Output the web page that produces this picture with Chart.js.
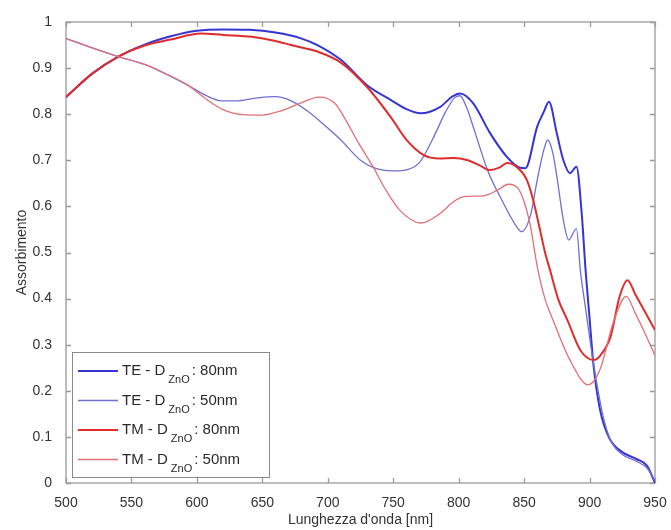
<!DOCTYPE html>
<html><head><meta charset="utf-8">
<script src="https://cdn.jsdelivr.net/npm/chart.js@4.4.1/dist/chart.umd.min.js"></script>
<style>html,body{margin:0;padding:0;background:#fff;} #wrap{width:671px;height:530px;}</style>
</head><body>
<div id="wrap"><canvas id="c" width="671" height="530"></canvas></div>
<script>
// ---- data ----
const wlTE80  = [500,520,540,560,580,600,620,640,660,680,692,710,730,748,760,771,786,795,801,811,824,837,847,851,860,865,869,875,880,885,890,894,897,900,903,908,915,925,936,944,950];
const absTE80 = [0.837,0.888,0.925,0.951,0.969,0.981,0.984,0.983,0.977,0.964,0.950,0.918,0.863,0.831,0.811,0.802,0.816,0.838,0.845,0.824,0.759,0.707,0.684,0.683,0.773,0.805,0.827,0.758,0.700,0.672,0.686,0.585,0.460,0.358,0.256,0.159,0.098,0.067,0.052,0.037,0.0];

const wlTE50  = [500,520,540,560,573,593,606,619,630,645,660,672,685,700,710,725,735,750,761,770,780,790,797,801,806,812,822,834,844,848,855,860,865,868,872,875,880,884,890,893,897,901,905,910,916,925,936,944,950];
const absTE50 = [0.964,0.944,0.925,0.908,0.892,0.863,0.842,0.829,0.829,0.835,0.838,0.829,0.806,0.770,0.744,0.700,0.684,0.677,0.680,0.695,0.745,0.805,0.836,0.840,0.815,0.765,0.679,0.608,0.557,0.545,0.582,0.657,0.722,0.744,0.715,0.665,0.570,0.527,0.552,0.460,0.378,0.297,0.225,0.149,0.093,0.062,0.047,0.032,0.005];

const wlTM80  = [500,520,540,560,580,603,620,642,660,672,692,710,730,748,760,773,785,796,807,816,824,831,837,845,852,857,862,866,870,876,883,893,903,908,916,923,929,935,942,950];
const absTM80 = [0.837,0.888,0.925,0.949,0.962,0.975,0.972,0.968,0.959,0.950,0.936,0.912,0.859,0.794,0.745,0.712,0.704,0.705,0.700,0.689,0.679,0.684,0.694,0.684,0.658,0.613,0.551,0.500,0.460,0.399,0.354,0.288,0.267,0.276,0.317,0.405,0.440,0.409,0.373,0.332];

const wlTM50  = [500,520,540,560,573,593,606,619,635,650,665,680,693,705,712,723,735,743,755,771,786,796,804,819,830,838,845,850,855,860,866,872,885,899,908,918,928,935,942,950];
const absTM50 = [0.964,0.944,0.925,0.908,0.892,0.863,0.835,0.811,0.799,0.798,0.808,0.825,0.837,0.825,0.796,0.740,0.684,0.642,0.592,0.564,0.585,0.610,0.621,0.623,0.636,0.648,0.640,0.610,0.555,0.470,0.399,0.354,0.267,0.213,0.246,0.347,0.405,0.368,0.327,0.276];

const xTicks = [500,550,600,650,700,750,800,850,900,950];
const yTicks = [0,0.1,0.2,0.3,0.4,0.5,0.6,0.7,0.8,0.9,1];
const legendMain   = ['TE - D','TE - D','TM - D','TM - D'];
const legendSub    = 'ZnO';
const legendSuffix = [': 80nm',': 50nm',': 80nm',': 50nm'];
const xTitle = "Lunghezza d'onda [nm]";
const yTitle = 'Assorbimento';

// ---- styles ----
const colors = ['#3535d6','#7070d2','#e02c2c','#e27078'];
const widths = [2,1.3,2,1.3];
const FONT = "'Liberation Sans', Arial, sans-serif";

const toPts = (xs, ys) => xs.map((x, i) => ({x, y: ys[i]}));
const allData = [toPts(wlTE80, absTE80), toPts(wlTE50, absTE50), toPts(wlTM80, absTM80), toPts(wlTM50, absTM50)];

const frame = {
  id: 'frame',
  beforeDatasetsDraw(chart) {
    const {ctx, chartArea: a, scales: {x, y}} = chart;
    ctx.save();
    ctx.strokeStyle = '#9a9a9a';
    ctx.lineWidth = 1.3;
    ctx.strokeRect(a.left, a.top, a.right - a.left, a.bottom - a.top);
    ctx.beginPath();
    const L = 5;
    xTicks.forEach(v => {
      const px = Math.round(x.getPixelForValue(v)) + 0.5;
      ctx.moveTo(px, a.bottom); ctx.lineTo(px, a.bottom - L);
      ctx.moveTo(px, a.top); ctx.lineTo(px, a.top + L);
    });
    yTicks.forEach(v => {
      const py = Math.round(y.getPixelForValue(v)) + 0.5;
      ctx.moveTo(a.left, py); ctx.lineTo(a.left + L, py);
      ctx.moveTo(a.right, py); ctx.lineTo(a.right - L, py);
    });
    ctx.stroke();
    ctx.restore();
  }
};

const legendBox = {
  id: 'legendBox',
  afterDatasetsDraw(chart) {
    const {ctx, chartArea: a} = chart;
    const bx = a.left + 6, bw = 197, bh = 125, by = a.bottom - 6 - bh;
    ctx.save();
    ctx.fillStyle = '#ffffff';
    ctx.fillRect(bx, by, bw, bh);
    ctx.strokeStyle = '#8a8a8a';
    ctx.lineWidth = 1;
    ctx.strokeRect(bx + 0.5, by + 0.5, bw, bh);
    legendMain.forEach((t, i) => {
      const cy = by + 19 + i * 29.5;
      ctx.strokeStyle = colors[i];
      ctx.lineWidth = widths[i];
      ctx.beginPath();
      ctx.moveTo(bx + 6, cy); ctx.lineTo(bx + 46, cy);
      ctx.stroke();
      ctx.fillStyle = '#2a2a2a';
      ctx.textBaseline = 'middle';
      ctx.font = '15px ' + FONT;
      let tx = bx + 50;
      ctx.fillText(t, tx, cy);
      tx += ctx.measureText(t).width + 3;
      ctx.font = '11px ' + FONT;
      ctx.fillText(legendSub, tx, cy + 9);
      tx += ctx.measureText(legendSub).width + 2;
      ctx.font = '15px ' + FONT;
      ctx.fillText(legendSuffix[i], tx, cy);
    });
    ctx.restore();
  }
};

new Chart(document.getElementById('c'), {
  type: 'line',
  data: {
    datasets: allData.map((d, i) => ({
      label: legendMain[i] + legendSub + legendSuffix[i],
      data: d,
      borderColor: colors[i],
      borderWidth: widths[i],
      pointRadius: 0,
      fill: false,
      cubicInterpolationMode: 'monotone'
    })).reverse()
  },
  options: {
    responsive: false,
    animation: false,
    layout: {padding: {top: 22, right: 16, left: 0, bottom: 0}},
    plugins: {legend: {display: false}, tooltip: {enabled: false}},
    scales: {
      x: {
        type: 'linear', min: 500, max: 950,
        grid: {display: false}, border: {display: false},
        afterBuildTicks: s => { s.ticks = xTicks.map(v => ({value: v})); },
        afterFit: s => { s.height = 47; },
        ticks: {color: '#333', font: {family: FONT, size: 14}, padding: 4, maxRotation: 0, callback: v => String(v)},
        title: {display: true, text: xTitle, color: '#333', font: {family: FONT, size: 14}, padding: {top: 0, bottom: 1}}
      },
      y: {
        type: 'linear', min: 0, max: 1,
        grid: {display: false}, border: {display: false},
        afterBuildTicks: s => { s.ticks = yTicks.map(v => ({value: v})); },
        afterFit: s => { s.width = 66; },
        ticks: {color: '#333', font: {family: FONT, size: 14}, padding: 6, callback: v => String(v)},
        title: {display: true, text: yTitle, color: '#333', font: {family: FONT, size: 14}, padding: {top: 14, bottom: 0}}
      }
    }
  },
  plugins: [frame, legendBox]
});
</script>
</body></html>
